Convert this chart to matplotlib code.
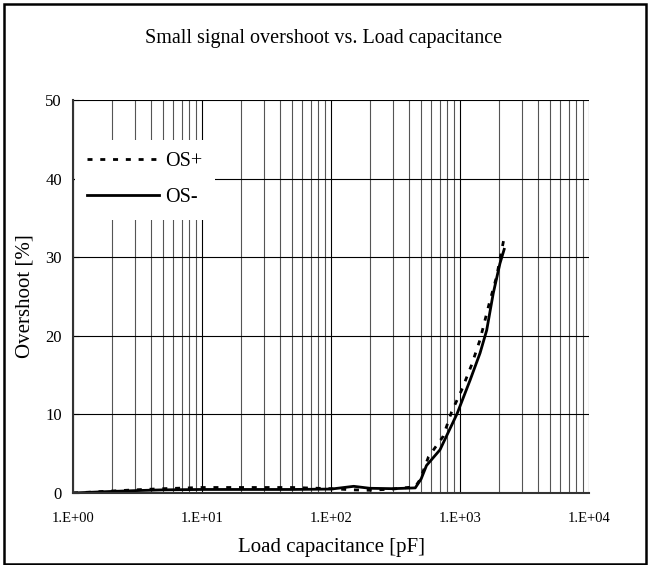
import math
import matplotlib
matplotlib.use('Agg')
import matplotlib.pyplot as plt
from matplotlib.patches import Rectangle
from matplotlib.ticker import LogLocator, FuncFormatter

plt.rcParams['font.family'] = ['Liberation Serif', 'DejaVu Serif']

# OS- (solid) : load capacitance [pF] vs overshoot [%]
cap_neg = [1, 2, 3, 5, 10, 20, 50, 100, 150, 200, 300, 450, 500, 550, 700,
           950, 1200, 1430, 1610, 1810, 2040, 2200]
os_neg = [0.0, 0.2, 0.3, 0.4, 0.45, 0.45, 0.45, 0.5, 0.85, 0.6, 0.55, 0.65,
          1.8, 3.5, 5.5, 10.1, 14.4, 17.8, 20.7, 25.4, 29.2, 31.0]

# OS+ (dotted)
cap_pos = [1, 2, 3, 5, 10, 20, 50, 100, 150, 200, 300, 450, 490, 570, 740,
           860, 1030, 1230, 1430, 1690, 1920, 2200]
os_pos = [0.0, 0.25, 0.4, 0.55, 0.7, 0.7, 0.7, 0.55, 0.4, 0.35, 0.5, 0.8,
          1.7, 4.6, 7.2, 10.3, 13.1, 16.3, 19.5, 24.2, 27.5, 32.5]

fig = plt.figure(figsize=(6.48, 5.65), dpi=100)
ax = fig.add_axes([73 / 648, 72 / 565, 516 / 648, 393 / 565])

ax.plot(cap_pos, os_pos, color='black', lw=2, linestyle=(0, (1.8, 2.8)), label='OS+')
ax.plot(cap_neg, os_neg, color='black', lw=2, label='OS-')

ax.set_xscale('log')
ax.set_xlim(1, 1e4)
ax.set_ylim(0, 50)
ax.set_yticks([0, 10, 20, 30, 40, 50])
ax.xaxis.set_major_locator(LogLocator(base=10, numticks=10))
ax.xaxis.set_minor_locator(LogLocator(base=10, subs=range(2, 10), numticks=20))
ax.xaxis.set_major_formatter(FuncFormatter(lambda v, p: '1.E+%02d' % round(math.log10(v))))
ax.xaxis.set_minor_formatter(FuncFormatter(lambda v, p: ''))

ax.grid(True, which='major', axis='both', color='black', lw=0.8)
ax.grid(True, which='minor', axis='x', color='#555555', lw=0.8)
ax.tick_params(axis='x', which='both', length=0, labelsize=10.5, pad=14)
ax.tick_params(axis='y', which='major', length=4, direction='in', labelsize=12, pad=8)
for s in ['top', 'right']:
    ax.spines[s].set_visible(False)
for s in ['left', 'bottom']:
    ax.spines[s].set_color('#333333')
    ax.spines[s].set_linewidth(1.5)

ax.set_xlabel('Load capacitance [pF]', fontsize=15, labelpad=9)
ax.set_ylabel('Overshoot [%]', fontsize=15, labelpad=8)

leg = ax.legend(loc='upper left', bbox_to_anchor=(0.003, 0.898), fontsize=14.5,
                handlelength=3.6, handletextpad=0.3, labelspacing=0.85,
                frameon=True, fancybox=False, borderpad=0.6, borderaxespad=0)
leg.get_frame().set_edgecolor('none')
leg.get_frame().set_facecolor('white')
leg.get_frame().set_alpha(1)

fig.text(0.5, 1 - 38 / 565, 'Small signal overshoot vs. Load capacitance',
         ha='center', va='center', fontsize=14.5)

fig.patches.append(Rectangle((4 / 648, 1 / 565), 642 / 648, 560 / 565,
                             transform=fig.transFigure, fill=False,
                             edgecolor='black', lw=1.8))

fig.savefig('out.png', dpi=100)
